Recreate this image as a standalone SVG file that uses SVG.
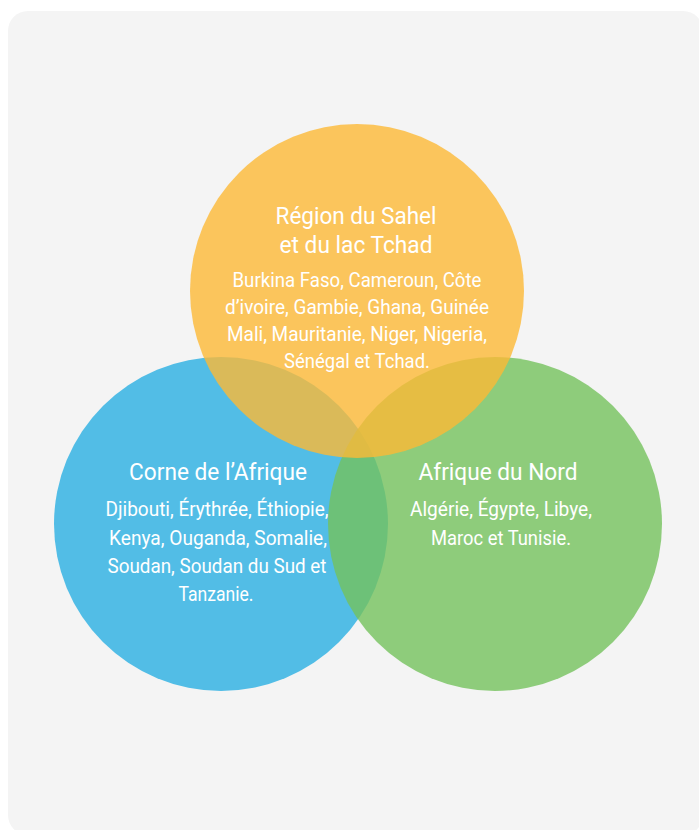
<svg xmlns="http://www.w3.org/2000/svg" width="699" height="830" viewBox="0 0 699 830">
  <style>
    .ttl { font-family: Roboto, "Noto Sans", "Liberation Sans", sans-serif; font-size: 23px; fill: #ffffff; text-anchor: middle; }
    .txt { font-family: Roboto, "Noto Sans", "Liberation Sans", sans-serif; font-size: 20px; fill: #ffffff; text-anchor: middle; }
  </style>
  <rect width="699" height="830" fill="#ffffff"/>
  <!-- background panel -->
  <rect id="panel" x="8" y="11" width="695" height="824" rx="20" ry="20" fill="#f4f4f4"/>

  <!-- circles -->
  <g id="corne-circle">
    <circle cx="221" cy="524" r="167" fill="#52bde6"/>
  </g>
  <g id="nord-circle">
    <circle cx="495" cy="524" r="167" fill="#74c25d" fill-opacity="0.8"/>
  </g>
  <g id="sahel-circle">
    <circle cx="357" cy="291" r="167" fill="#fdb936" fill-opacity="0.8"/>
  </g>

  <!-- labels -->
  <g id="sahel-label">
    <text class="ttl" x="356" y="224" textLength="161" lengthAdjust="spacingAndGlyphs">Région du Sahel</text>
    <text class="ttl" x="356" y="253" textLength="153" lengthAdjust="spacingAndGlyphs">et du lac Tchad</text>
    <text class="txt" x="357" y="287" textLength="249" lengthAdjust="spacingAndGlyphs">Burkina Faso, Cameroun, Côte</text>
    <text class="txt" x="357" y="314" textLength="264" lengthAdjust="spacingAndGlyphs">d’ivoire, Gambie, Ghana, Guinée</text>
    <text class="txt" x="357" y="341" textLength="260" lengthAdjust="spacingAndGlyphs">Mali, Mauritanie, Niger, Nigeria,</text>
    <text class="txt" x="357" y="368" textLength="146" lengthAdjust="spacingAndGlyphs">Sénégal et Tchad.</text>
  </g>
  <g id="corne-label">
    <text class="ttl" x="218" y="480" textLength="178" lengthAdjust="spacingAndGlyphs">Corne de l’Afrique</text>
    <text class="txt" x="217" y="516" textLength="223" lengthAdjust="spacingAndGlyphs">Djibouti, Érythrée, Éthiopie,</text>
    <text class="txt" x="218" y="545" textLength="218" lengthAdjust="spacingAndGlyphs">Kenya, Ouganda, Somalie,</text>
    <text class="txt" x="217" y="573" textLength="219" lengthAdjust="spacingAndGlyphs">Soudan, Soudan du Sud et</text>
    <text class="txt" x="216" y="601" textLength="75" lengthAdjust="spacingAndGlyphs">Tanzanie.</text>
  </g>
  <g id="nord-label">
    <text class="ttl" x="498" y="480" textLength="159" lengthAdjust="spacingAndGlyphs">Afrique du Nord</text>
    <text class="txt" x="501" y="516" textLength="182" lengthAdjust="spacingAndGlyphs">Algérie, Égypte, Libye,</text>
    <text class="txt" x="501" y="545" textLength="140" lengthAdjust="spacingAndGlyphs">Maroc et Tunisie.</text>
  </g>
</svg>
